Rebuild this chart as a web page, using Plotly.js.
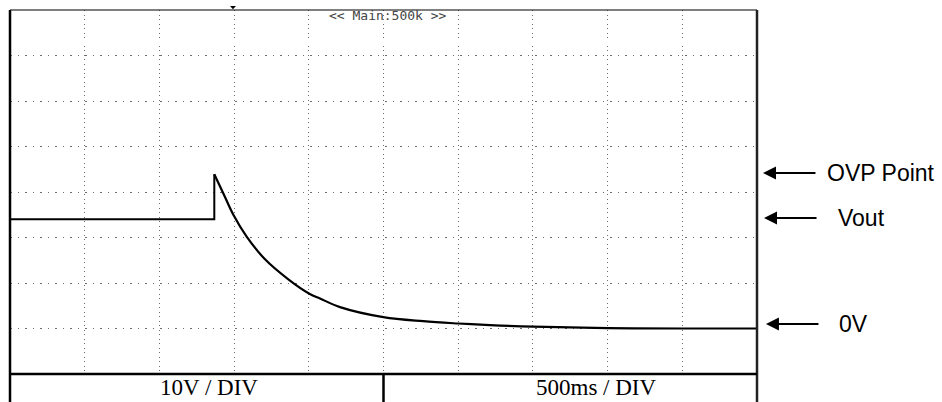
<!DOCTYPE html>
<html>
<head>
<meta charset="utf-8">
<script src="https://cdn.plot.ly/plotly-3.0.1.min.js"></script>
<style>
  html, body { margin: 0; padding: 0; background: #fff; }
  #chart { width: 942px; height: 402px; }
</style>
</head>
<body>
<div id="chart"></div>
<script>
// ---- data (time in ms, voltage in V) ----
const levelTime = [0, 1367.5, 1367.5];
const levelVolt = [24.0, 24.0, 33.9];
const decayTime = [1367.5, 1432, 1495, 1584, 1707, 1863, 2001, 2075, 2209, 2499, 2766, 3000, 3213, 3501, 4003, 4505, 5000];
const decayVolt = [33.9, 29.4, 25.0, 20.2, 15.2, 10.8, 7.7, 6.6, 4.7, 2.5, 1.6, 1.1, 0.75, 0.4, 0.1, 0.0, 0.0];

const markerLabels = ["OVP Point", "Vout", "0V"];
const markerLevels = [34.2, 24.3, 1.0];
const scaleLabels = ["10V / DIV", "500ms / DIV"];
const scopeLabel = "<< Main:500k >>";

const traces = [
  { x: levelTime, y: levelVolt, mode: 'lines', line: { color: '#000', width: 2 }, hoverinfo: 'skip' },
  { x: decayTime, y: decayVolt, mode: 'lines', line: { color: '#000', width: 2.2, shape: 'spline', smoothing: 1 }, hoverinfo: 'skip' }
];

const annotations = [];
// scope header
annotations.push({ xref: 'paper', yref: 'paper', x: 0.506, y: 0.984, text: scopeLabel, showarrow: false,
  xanchor: 'center', yanchor: 'middle', font: { family: 'DejaVu Sans Mono, monospace', size: 13, color: '#444' } });

// right-side marker arrows and labels
const headX = [1.008, 1.0094, 1.012];
const textX = [1.0910, 1.1057, 1.1070];
markerLabels.forEach((lab, i) => {
  annotations.push({ xref: 'paper', yref: 'y', x: headX[i], y: markerLevels[i], text: '', showarrow: true,
    axref: 'pixel', ayref: 'pixel', ax: 54, ay: 0, arrowhead: 2, arrowsize: 1.3, arrowwidth: 2, arrowcolor: '#000' });
  annotations.push({ xref: 'paper', yref: 'y', x: textX[i], y: markerLevels[i], text: lab, showarrow: false,
    xanchor: 'left', yanchor: 'middle', font: { family: 'Liberation Sans, Arial, sans-serif', size: 23, color: '#000' } });
});

// bottom scale labels
const scaleX = [0.2664, 0.7845];
scaleLabels.forEach((lab, i) => {
  annotations.push({ xref: 'paper', yref: 'paper', x: scaleX[i], y: -0.036, text: lab, showarrow: false,
    xanchor: 'center', yanchor: 'middle', font: { family: 'Liberation Serif, Times New Roman, serif', size: 23, color: '#000' } });
});

const shapes = [
  // frame
  { type: 'line', xref: 'paper', yref: 'paper', x0: 0, x1: 1, y0: 1, y1: 1, line: { color: '#000', width: 1.2 } },
  { type: 'line', xref: 'paper', yref: 'paper', x0: 0, x1: 0, y0: 1, y1: -0.08, line: { color: '#000', width: 2.5 } },
  { type: 'line', xref: 'paper', yref: 'paper', x0: 1, x1: 1, y0: 1, y1: -0.08, line: { color: '#222', width: 2.5 } },
  { type: 'line', xref: 'paper', yref: 'paper', x0: 0, x1: 1, y0: 0, y1: 0, line: { color: '#000', width: 2.5 } },
  // table divider
  { type: 'line', xref: 'paper', yref: 'paper', x0: 0.5, x1: 0.5, y0: 0, y1: -0.08, line: { color: '#000', width: 2.5 } },
  // trigger marker at top
  { type: 'path', xref: 'paper', yref: 'paper', path: 'M 0.2945 1.011 L 0.3025 1.011 L 0.2985 1.002 Z', fillcolor: '#000', line: { width: 0 } }
];

const layout = {
  width: 942, height: 402,
  margin: { l: 10, r: 185, t: 10, b: 28 },
  paper_bgcolor: '#fff', plot_bgcolor: '#fff',
  showlegend: false,
  xaxis: { range: [0, 5000], dtick: 500, tick0: 0, showgrid: true, gridcolor: '#6e6e6e', gridwidth: 1,
    griddash: '1px,3.5px', zeroline: false, showticklabels: false, ticks: '', showline: false, fixedrange: true },
  yaxis: { range: [-10, 70], dtick: 10, tick0: -10, showgrid: true, gridcolor: '#6e6e6e', gridwidth: 1,
    griddash: '1.5px,6px', zeroline: false, showticklabels: false, ticks: '', showline: false, fixedrange: true },
  annotations: annotations,
  shapes: shapes
};

Plotly.newPlot('chart', traces, layout, { displayModeBar: false, staticPlot: true });
</script>
</body>
</html>
